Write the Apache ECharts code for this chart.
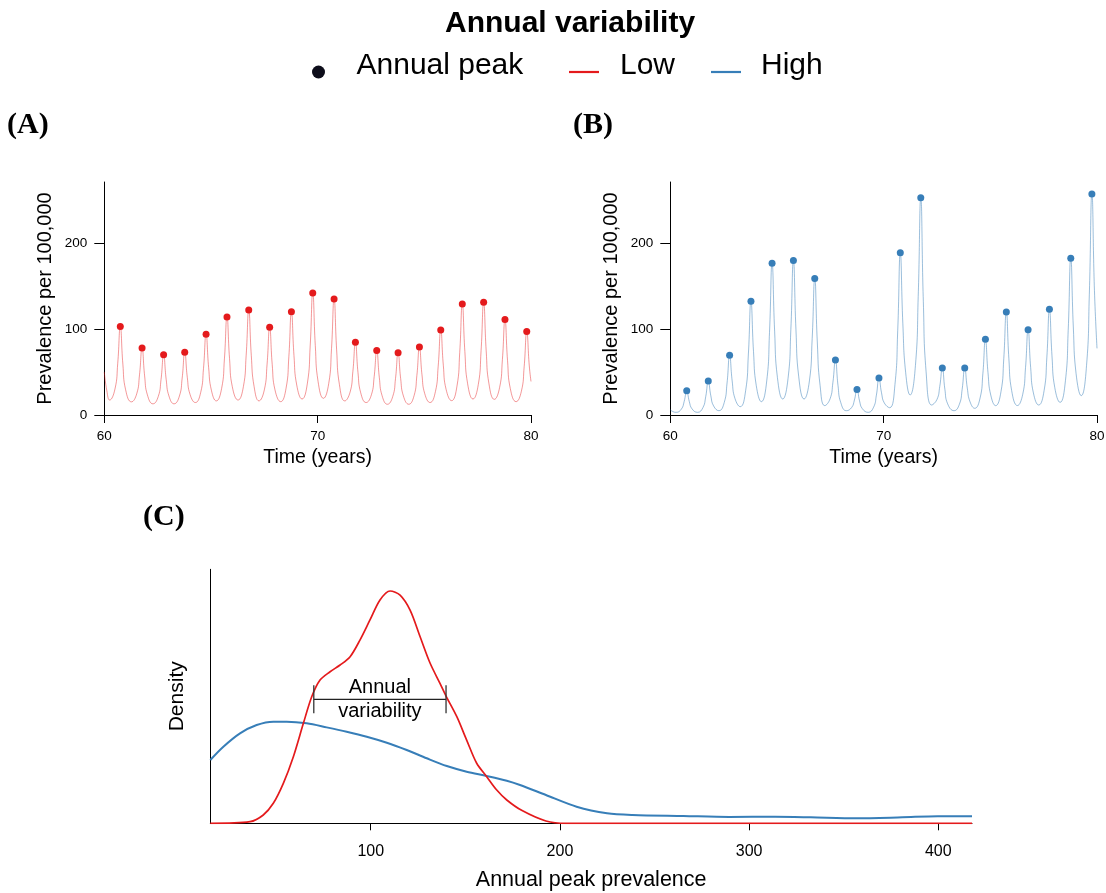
<!DOCTYPE html>
<html lang="en">
<head>
<meta charset="UTF-8">
<title>annual_variability</title>
<style>
    html, body { margin: 0; padding: 0; background: #fff; }
    #box { width: 1106px; height: 893px; }
</style>
</head>
<body>
<div id="box"></div>
<script src="https://cdn.jsdelivr.net/npm/echarts@6/dist/echarts.min.js"></script>
<script>
    // (A) low annual variability: peaks, troughs and flank readings per season
    const lowPeakYears = [60.75, 61.77, 62.78, 63.77, 64.77, 65.75, 66.77, 67.75, 68.77, 69.77, 70.77, 71.77, 72.77, 73.77, 74.77, 75.77, 76.78, 77.78, 78.78, 79.8];
    const lowPeaks = [103, 78, 70, 73, 94, 114, 122, 102, 120, 142, 135, 84.5, 75, 72.5, 79, 99, 129, 131, 111, 97];
    const lowTroughs = [17.4, 15.3, 13, 13, 14.5, 16.4, 17.4, 16.4, 15.5, 18.6, 19.4, 16.4, 14.5, 12.5, 12.5, 14.5, 16.7, 18.6, 18.2, 15.5];
    const lowRiseOuter = [30.2, 24.7, 21.6, 22, 26.4, 31, 33.1, 29.2, 31.2, 37.1, 36.7, 26.6, 23.6, 21.5, 22.5, 27.2, 33.5, 35.5, 32.1, 27.7];
    const lowRiseInner = [60.2, 46.7, 41.5, 43, 54.3, 65.2, 69.7, 59.2, 67.8, 80.3, 77.2, 50.4, 44.8, 42.5, 45.8, 56.8, 72.9, 74.8, 64.6, 56.3];
    const lowFallInner = [59.2, 45.5, 41.5, 43.8, 55.2, 65.7, 69.2, 58.8, 69.3, 80.7, 75.7, 49.5, 43.8, 42.5, 46.8, 57.9, 73.8, 74.6, 63.3, 57];
    const lowFallOuter = [29.3, 23.4, 22.1, 23.9, 28.8, 32.9, 33.3, 29.3, 34.8, 39, 35.4, 25.7, 22.5, 22.1, 24.8, 29.9, 36.3, 36.2, 30.8, null];
    const lowStart = [[60, 50], [60.12, 28]];
    const lowEnd = [80, 39];

    // (B) high annual variability
    const highPeakYears = [60.77, 61.78, 62.78, 63.78, 64.77, 65.77, 66.77, 67.74, 68.75, 69.78, 70.78, 71.74, 72.75, 73.8, 74.77, 75.75, 76.77, 77.77, 78.77, 79.76];
    const highPeaks = [28.3, 39.5, 69.4, 132.2, 176.4, 179.8, 158.9, 64, 29.8, 43, 188.7, 252.7, 54.7, 54.7, 88, 119.8, 99.2, 122.9, 182.2, 257];
    const highTroughs = [3.1, 3.1, 5, 9.7, 15.5, 18.6, 18.6, 10.9, 5, 3.1, 8.5, 23.3, 11.6, 5, 7.8, 10.9, 11, 11.6, 14.7, 22.5];
    const highRiseOuter = [6.9, 8.6, 14.7, 28.1, 39.6, 42.8, 39.6, 18.9, 8.7, 9.1, 35.5, 57.7, 18.1, 12.5, 19.8, 27.2, 24.2, 28.3, 39.8, 57.7];
    const highRiseInner = [15.7, 21.3, 37.2, 71, 96, 99.2, 88.8, 37.5, 17.4, 23.1, 98.6, 138, 33.2, 29.9, 47.9, 65.4, 55.1, 67.3, 98.5, 139.8];
    const highFallInner = [15.7, 22.3, 39.6, 73.9, 97.5, 99.2, 84.9, 34.5, 16.5, 25.8, 106, 132.2, 29.9, 31.3, 49.5, 65.4, 55.4, 68.8, 102.4, 145];
    const highFallOuter = [7.1, 10.5, 19.3, 34.2, 43.8, 44.4, 34.6, 14.4, 7.4, 14, 49.8, 50.2, 13, 15.3, 23.2, 28.4, 25.6, 32, 48.1, null];
    const highStart = [[60, 6], [60.12, 4]];
    const highEnd = [80, 77.5];

    // (C) density of annual peak prevalence
    const lowDensX = [15.2, 36.2, 43.2, 48.5, 53.8, 59.1, 64.4, 68.8, 73.2, 78.5, 83.8, 89.1, 94.3, 99.6, 104.9, 110.2, 115.5, 120.8, 126.1, 131.4, 136.6, 139.8, 145.5, 150.7, 156, 161.3, 166.6, 171.9, 180, 192.6, 203.4, 417.8];
    const lowDens = [0, 0.00014, 0.00072, 0.00173, 0.00346, 0.00577, 0.00866, 0.01096, 0.01241, 0.01313, 0.01371, 0.01443, 0.01587, 0.01761, 0.01934, 0.02012, 0.01977, 0.01847, 0.01616, 0.01386, 0.01212, 0.01102, 0.00923, 0.00721, 0.0052, 0.00404, 0.00288, 0.00202, 0.0011, 0.0002, 0, 0];
    const highDensX = [15.2, 22.1, 30.9, 39.7, 48.5, 55.6, 66.2, 76.7, 87.3, 97.9, 108.5, 119, 129.6, 140.2, 150.7, 161.3, 171.9, 178.9, 192.6, 208.8, 224.9, 238.4, 265.3, 289.5, 313.7, 332.5, 356.7, 381, 399.7, 417.8];
    const highDens = [0.00548, 0.00663, 0.00779, 0.00851, 0.0088, 0.0088, 0.00866, 0.00831, 0.00793, 0.0075, 0.00698, 0.00635, 0.00563, 0.00496, 0.00447, 0.0041, 0.00369, 0.00332, 0.00245, 0.00144, 0.00087, 0.00072, 0.00063, 0.00055, 0.00057, 0.00052, 0.00043, 0.00052, 0.00061, 0.00061];
    const annoRange = [69.9, 139.8];
    const annoLevel = 0.01074;

    const yTicks = [0, 100, 200];
    const densTicks = [100, 200, 300, 400];

    const FONT = "'Liberation Sans', Arial, sans-serif";
    const SERIF = "'Liberation Serif', 'DejaVu Serif', serif";

    // sample points of one season: trough, rise, peak, fall
    function buildCurve(start, years, troughs, riseOuter, riseInner, peaks, fallInner, fallOuter, end) {
        let pts = start.slice();
        for (let i = 0; i < years.length; i++) {
            let p = years[i];
            pts.push([p - 0.5, troughs[i]]);
            pts.push([p - 0.25, riseOuter[i]]);
            pts.push([p - 0.12, riseInner[i]]);
            pts.push([p, peaks[i]]);
            pts.push([p + 0.12, fallInner[i]]);
            if (fallOuter[i] != null) pts.push([p + 0.25, fallOuter[i]]);
        }
        pts.push(end);
        return pts;
    }

    function zip(xs, ys) {
        return xs.map((x, i) => [x, ys[i]]);
    }

    let lowCurve = buildCurve(lowStart, lowPeakYears, lowTroughs, lowRiseOuter, lowRiseInner, lowPeaks, lowFallInner, lowFallOuter, lowEnd);
    let highCurve = buildCurve(highStart, highPeakYears, highTroughs, highRiseOuter, highRiseInner, highPeaks, highFallInner, highFallOuter, highEnd);

    const axisLine = {show: true, lineStyle: {color: '#000', width: 1}};

    function timeX(gridIndex) {
        return {
            type: 'value', gridIndex: gridIndex, min: 60, max: 80, interval: 10,
            name: 'Time (years)', nameLocation: 'middle', nameGap: 33,
            nameTextStyle: {fontSize: 19.5, color: '#000', fontFamily: FONT},
            axisLine: axisLine,
            axisTick: {show: true, length: 8, lineStyle: {color: '#000'}},
            axisLabel: {fontSize: 13.5, color: '#000', fontFamily: FONT, margin: 14},
            splitLine: {show: false}
        };
    }

    function prevY(gridIndex) {
        return {
            type: 'value', gridIndex: gridIndex, min: 0, max: 271,
            name: 'Prevalence per 100,000', nameLocation: 'middle', nameGap: 49,
            nameTextStyle: {fontSize: 20, color: '#000', fontFamily: FONT},
            axisLine: axisLine,
            axisTick: {show: true, length: 10, customValues: yTicks, lineStyle: {color: '#000'}},
            axisLabel: {fontSize: 13.5, color: '#000', fontFamily: FONT, margin: 17, customValues: yTicks},
            splitLine: {show: false}
        };
    }

    function legendText(pad) {
        return {
            color: '#000',
            rich: {t: {fontSize: 30, color: '#000', fontFamily: FONT, padding: [0, 0, 13, pad]}}
        };
    }

    let myChart = echarts.init(document.getElementById('box'));
    let option = {
        animation: false,
        backgroundColor: '#fff',
        title: [
            {text: 'Annual variability', left: 445, top: 9, padding: 0,
                textStyle: {fontSize: 30, fontWeight: 'bold', color: '#000', fontFamily: FONT}},
            {text: '(A)', left: 7, top: 110, padding: 0,
                textStyle: {fontSize: 30, fontWeight: 'bold', color: '#000', fontFamily: SERIF}},
            {text: '(B)', left: 573, top: 110, padding: 0,
                textStyle: {fontSize: 30, fontWeight: 'bold', color: '#000', fontFamily: SERIF}},
            {text: '(C)', left: 143, top: 502, padding: 0,
                textStyle: {fontSize: 30, fontWeight: 'bold', color: '#000', fontFamily: SERIF}}
        ],
        legend: [
            {
                data: [{name: 'Annual peak', icon: 'circle', itemStyle: {color: '#0d0d1a', opacity: 1}}],
                left: 312, top: 50.5, padding: 0, itemWidth: 30, itemHeight: 13, selectedMode: false,
                formatter: name => '{t|' + name + '}', textStyle: legendText(18)
            },
            {
                data: [{name: 'Low', icon: 'path://M0,0H30V2.2H0Z', itemStyle: {color: '#e41a1c', opacity: 1}}],
                left: 569, top: 50.5, padding: 0, itemWidth: 30, itemHeight: 13, selectedMode: false,
                formatter: name => '{t|' + name + '}', textStyle: legendText(16)
            },
            {
                data: [{name: 'High', icon: 'path://M0,0H30V2.2H0Z', itemStyle: {color: '#377eb8', opacity: 1}}],
                left: 711, top: 50.5, padding: 0, itemWidth: 30, itemHeight: 13, selectedMode: false,
                formatter: name => '{t|' + name + '}', textStyle: legendText(15)
            }
        ],
        grid: [
            {left: 104.3, right: 575, top: 182, bottom: 478, outerBoundsMode: 'none'},
            {left: 670.3, right: 9, top: 182, bottom: 478, outerBoundsMode: 'none'},
            {left: 210.3, right: 134, top: 569.3, bottom: 69.7, outerBoundsMode: 'none'}
        ],
        xAxis: [
            timeX(0),
            timeX(1),
            {
                type: 'value', gridIndex: 2, min: 15.2, max: 417.8,
                name: 'Annual peak prevalence', nameLocation: 'middle', nameGap: 46,
                nameTextStyle: {fontSize: 21.5, color: '#000', fontFamily: FONT},
                axisLine: axisLine,
                axisTick: {show: true, length: 7, customValues: densTicks, lineStyle: {color: '#000'}},
                axisLabel: {fontSize: 16, color: '#000', fontFamily: FONT, margin: 20, customValues: densTicks},
                splitLine: {show: false}
            }
        ],
        yAxis: [
            prevY(0),
            prevY(1),
            {
                type: 'value', gridIndex: 2, min: 0, max: 0.022,
                name: 'Density', nameLocation: 'middle', nameGap: 23,
                nameTextStyle: {fontSize: 21, color: '#000', fontFamily: FONT},
                axisLine: axisLine,
                axisTick: {show: false},
                axisLabel: {show: false},
                splitLine: {show: false}
            }
        ],
        series: [
            {
                type: 'line', xAxisIndex: 0, yAxisIndex: 0, data: lowCurve,
                showSymbol: false, smooth: 0.5, silent: true,
                lineStyle: {color: 'rgba(228,26,28,0.45)', width: 1}
            },
            {
                name: 'Annual peak', type: 'scatter', xAxisIndex: 0, yAxisIndex: 0,
                data: zip(lowPeakYears, lowPeaks), symbolSize: 7, z: 5,
                itemStyle: {color: '#e41a1c', opacity: 1}
            },
            {
                type: 'line', xAxisIndex: 1, yAxisIndex: 1, data: highCurve,
                showSymbol: false, smooth: 0.5, silent: true,
                lineStyle: {color: 'rgba(55,126,184,0.5)', width: 1}
            },
            {
                name: 'Annual peak', type: 'scatter', xAxisIndex: 1, yAxisIndex: 1,
                data: zip(highPeakYears, highPeaks), symbolSize: 7, z: 5,
                itemStyle: {color: '#377eb8', opacity: 1}
            },
            {
                name: 'Low', type: 'line', xAxisIndex: 2, yAxisIndex: 2, data: zip(lowDensX, lowDens),
                showSymbol: false, smooth: 0.3, z: 4,
                itemStyle: {color: '#e41a1c'},
                lineStyle: {color: '#e41a1c', width: 1.7}
            },
            {
                name: 'High', type: 'line', xAxisIndex: 2, yAxisIndex: 2, data: zip(highDensX, highDens),
                showSymbol: false, smooth: 0.3, z: 3,
                itemStyle: {color: '#377eb8'},
                lineStyle: {color: '#377eb8', width: 2}
            },
            // annual variability bracket
            {
                type: 'line', xAxisIndex: 2, yAxisIndex: 2, silent: true, z: 6,
                data: annoRange.map(x => [x, annoLevel]),
                symbol: 'none', lineStyle: {color: '#222', width: 1.3}
            },
            {
                type: 'scatter', xAxisIndex: 2, yAxisIndex: 2, silent: true, z: 6,
                data: annoRange.map(x => [x, annoLevel]),
                symbol: 'rect', symbolSize: [1.3, 28], itemStyle: {color: '#333', opacity: 1}
            },
            {
                type: 'scatter', xAxisIndex: 2, yAxisIndex: 2, silent: true, z: 6,
                data: [[(annoRange[0] + annoRange[1]) / 2, annoLevel]],
                symbolSize: 0, itemStyle: {opacity: 1},
                label: {
                    show: true, position: 'inside', formatter: 'Annual\nvariability',
                    fontSize: 20, lineHeight: 24, color: '#000', fontFamily: FONT
                }
            }
        ]
    };
    myChart.setOption(option);
</script>
</body>
</html>
